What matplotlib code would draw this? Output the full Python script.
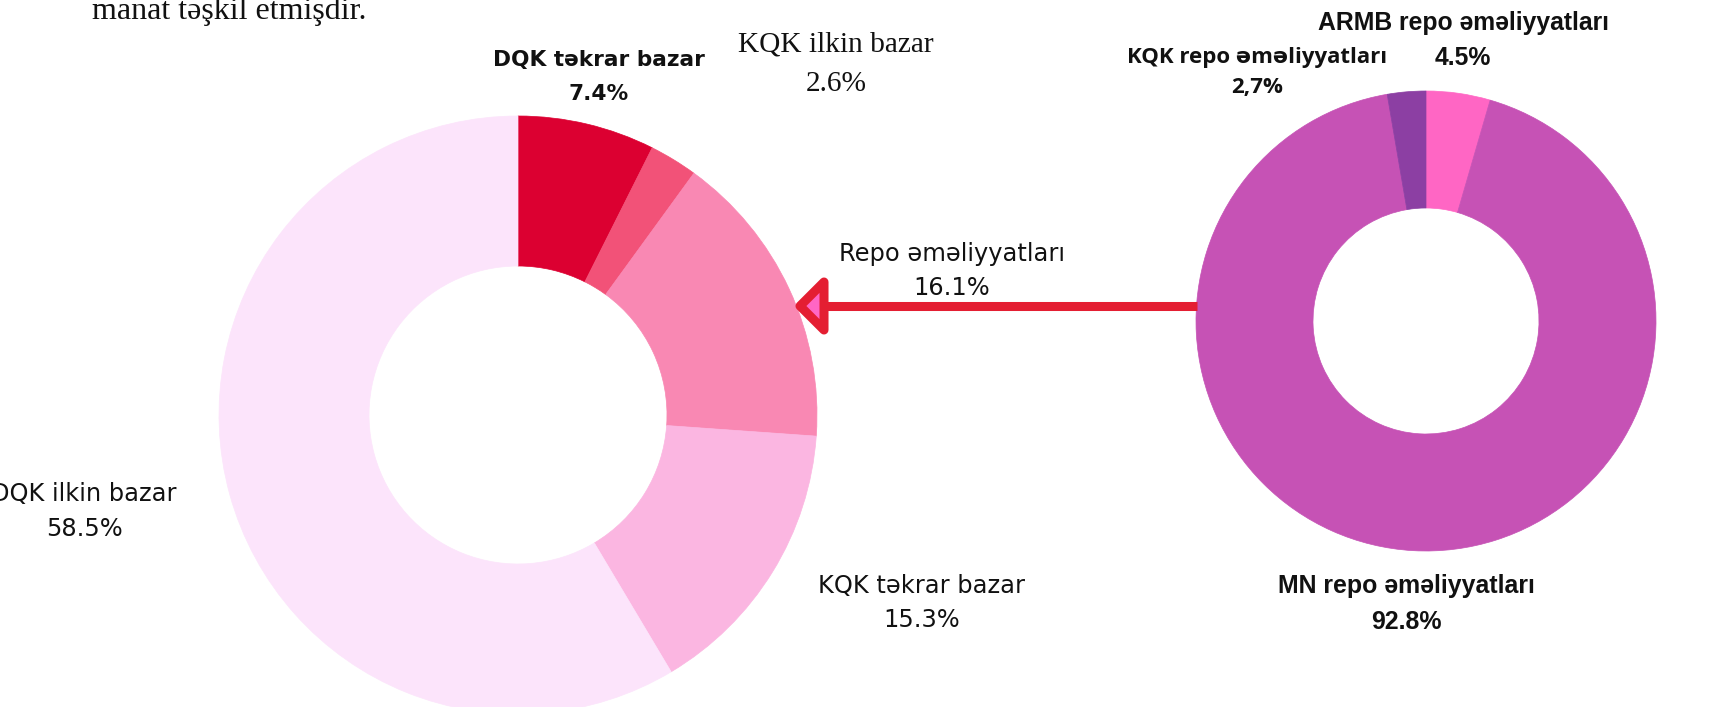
import matplotlib
matplotlib.use("Agg")
import matplotlib.pyplot as plt
from matplotlib.patches import Polygon

# left donut: share of the market segments (%)
left_labels = ["DQK təkrar bazar", "KQK ilkin bazar", "Repo əməliyyatları",
               "KQK təkrar bazar", "DQK ilkin bazar"]
left_values = [7.4, 2.6, 16.1, 15.3, 58.5]
left_colors = ["#DC0031", "#F25278", "#F988B3", "#FBB6E1", "#FCE4FB"]

# right donut: breakdown of repo operations (%)
right_labels = ["ARMB repo əməliyyatları", "MN repo əməliyyatları", "KQK repo əməliyyatları"]
right_values = [4.5, 92.8, 2.7]
right_pct = ["4.5%", "92.8%", "2,7%"]
right_colors = ["#FF66C4", "#C652B5", "#8C3FA3"]

W, H = 1709, 707
SANS = ["DejaVu Sans"]
SERIF = ["Liberation Serif", "DejaVu Serif"]


def y(v):
    # image rows (top=0) -> plot coords
    return H - v


fig = plt.figure(figsize=(W / 100, H / 100), dpi=100)
ax = fig.add_axes([0, 0, 1, 1])

# donuts
wl, _ = ax.pie(left_values, colors=left_colors, startangle=90, counterclock=False,
               radius=299, center=(518, y(415)), wedgeprops=dict(width=150))
wr, _ = ax.pie(right_values, colors=right_colors, startangle=90, counterclock=False,
               radius=230, center=(1426, y(321)), wedgeprops=dict(width=117))
for w in wl + wr:
    w.set_edgecolor(w.get_facecolor())
    w.set_linewidth(0.5)

# arrow from right donut to repo segment
red = "#E41E32"
ax.plot([1197, 826], [y(306), y(306)], color=red, lw=6.5, solid_capstyle="butt", zorder=3)
ax.add_patch(Polygon([(800, y(306)), (824, y(282)), (824, y(330))], closed=True,
                     facecolor="#FF66C4", edgecolor=red, lw=6.5, joinstyle="round", zorder=4))

# top paragraph fragment (cut off by the top edge, as in the source)
ax.text(92, y(19.5), "manat təşkil etmişdir.", family=SERIF, fontsize=23,
        ha="left", va="baseline", color="#111111")


def lab(x0, y0, name, pct, dy=34, **kw):
    ax.text(x0, y(y0), name, ha="center", va="center", color="#111111", **kw)
    ax.text(x0, y(y0 + dy), pct, ha="center", va="center", color="#111111", **kw)


# left labels
lab(599, 60, left_labels[0], f"{left_values[0]}%", dy=34, family=SANS, fontsize=15.6,
    fontweight="bold")
lab(836, 45, left_labels[1], f"{left_values[1]}%", dy=39, family=SERIF, fontsize=21.2)
lab(952, 254, left_labels[2], f"{left_values[2]}%", dy=34, family=SANS, fontsize=17.4)
lab(922, 586, left_labels[3], f"{left_values[3]}%", dy=34, family=SANS, fontsize=17.4)
lab(84, 494, left_labels[4], f"{left_values[4]}%", dy=35, family=SANS, fontsize=17.4)

# right labels
BOLD = ["Liberation Sans", "DejaVu Sans"]
lab(1463, 23, right_labels[0], right_pct[0], dy=35, family=BOLD, fontsize=17.8,
    fontweight="bold")
lab(1406, 586, right_labels[1], right_pct[1], dy=36, family=BOLD, fontsize=17.9,
    fontweight="bold")
lab(1257, 57, right_labels[2], right_pct[2], dy=31, family=["Open Sans", "DejaVu Sans"],
    fontsize=16, fontweight="bold")

ax.set_xlim(0, W)
ax.set_ylim(0, H)
ax.set_aspect("equal")
ax.axis("off")

fig.savefig("out.png", dpi=100, facecolor="white")
